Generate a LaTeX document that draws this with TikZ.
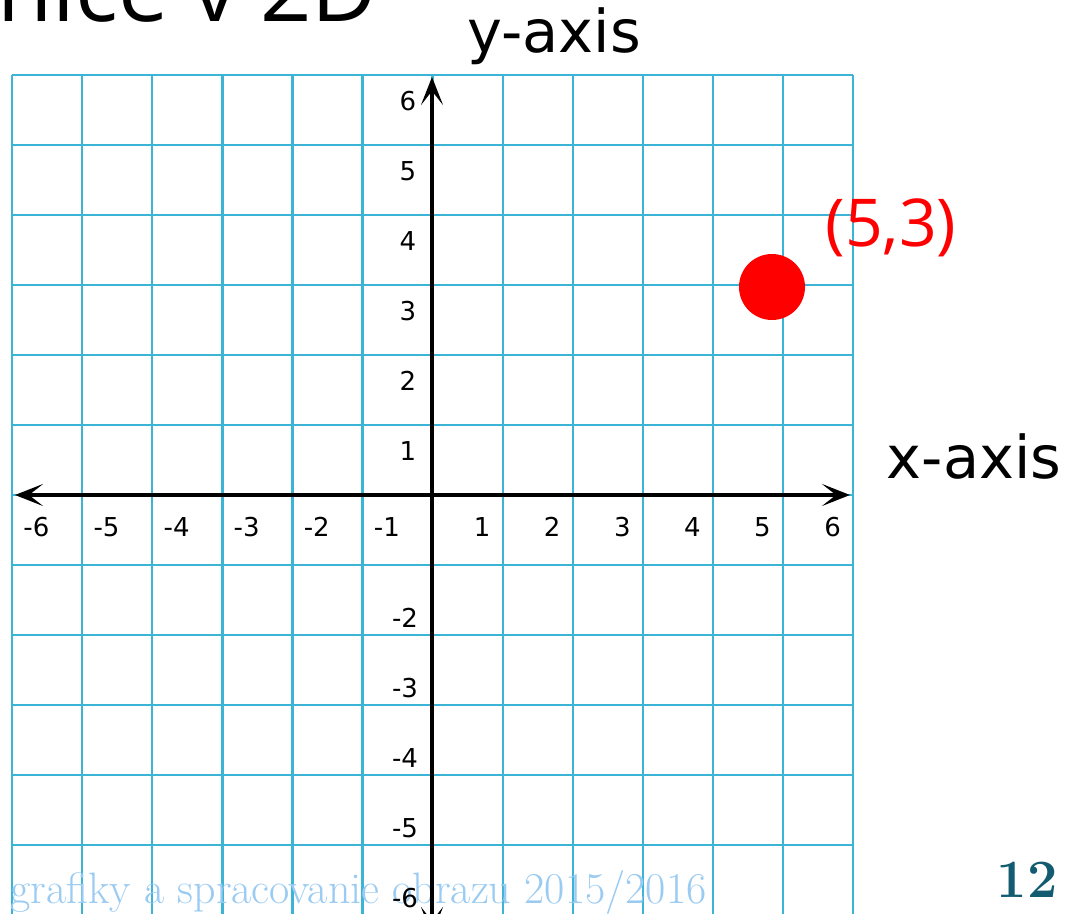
\documentclass[tikz,border=0pt]{standalone}
\usepackage{fontspec}
\usepackage{tikz}
\usetikzlibrary{arrows.meta}
\newfontfamily\axisfont{DejaVu Sans}
\newfontfamily\pointfont{Open Sans}
\definecolor{gridblue}{HTML}{3BB4D6}
\definecolor{footblue}{HTML}{9ACBF2}
\definecolor{pageteal}{HTML}{125B70}

\begin{document}
\begin{tikzpicture}[x=0.5pt, y=-0.5pt,
  gridline/.style={draw=gridblue, line width=1.2pt},
  axisline/.style={draw=black, line width=2pt, {Stealth[length=14pt,width=11pt,inset=7pt]}-{Stealth[length=14pt,width=11pt,inset=7pt]}},
  tick/.style={font=\axisfont\fontsize{13}{14}\selectfont, inner sep=0pt},
  caption/.style={font=\axisfont\fontsize{29.5}{32}\selectfont, anchor=base, inner sep=0pt},
  dot/.style={circle, fill=red, minimum size=33pt, inner sep=0pt}
]
\clip (0,0) rectangle (1075,914);
\fill[white] (0,0) rectangle (1075,914);

% grid
\foreach \i in {0,...,12} {
  \draw[gridline] (12+70.1*\i,75) -- (12+70.1*\i,930);
  \draw[gridline] (12,75+70*\i) -- (853,75+70*\i);
}

% slide title and footer
\node[font=\pointfont\fontsize{45}{48}\selectfont, anchor=base east, inner sep=0pt] (title) at (378,22) {nice v 2D};
\node[font=\fontsize{22}{24}\selectfont, text=footblue, anchor=base west, inner sep=0pt] (foot) at (10,903) {grafiky a spracovanie obrazu \oldstylenums{2015}/\oldstylenums{2016}};
\node[font=\bfseries\fontsize{27}{30}\selectfont, text=pageteal, anchor=base east, inner sep=0pt] (page) at (1058,897) {12};

% axes
\coordinate (xl) at (15,495);
\coordinate (xr) at (850,495);
\coordinate (yb) at (432,935);
\coordinate (yt) at (432,77);
\draw[axisline] (xl) -- (xr);
\draw[axisline] (yb) -- (yt);

\foreach \n in {1,...,6} {
  \node[tick] (xp\n) at (412+70.1*\n,527) {\n};
  \node[tick] (xm\n) at (457-70.1*\n,527) {-\n};
  \node[tick] (yp\n) at (408,521-70*\n) {\n};
}
\foreach \n in {2,...,6}
  \node[tick] (ym\n) at (405,478+70*\n) {-\n};

\node[caption] (ylab) at (554,53) {y-axis};
\node[caption] (xlab) at (974,478) {x-axis};

% point
\node[dot] (pt) at (772,287) {};
\node[font=\pointfont\fontsize{33}{36}\selectfont, text=red, anchor=base, inner sep=0pt] (ptlab) at (891,247) {(5,3)};
\end{tikzpicture}
\end{document}
